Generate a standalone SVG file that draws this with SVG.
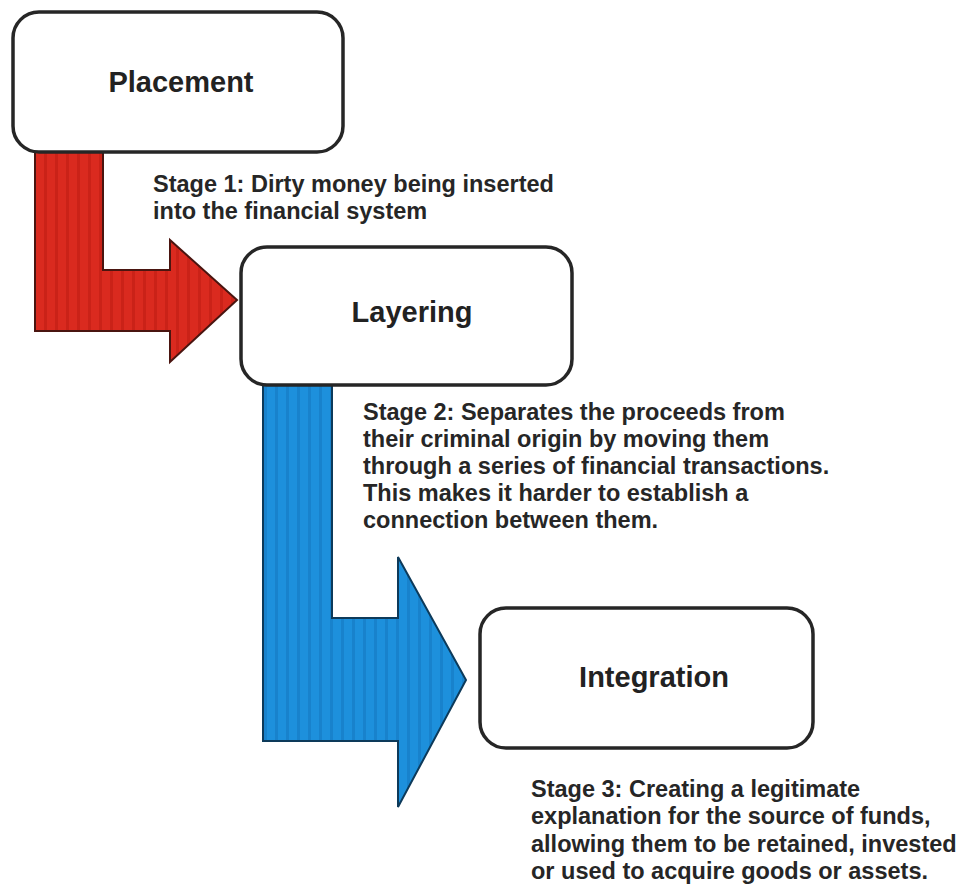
<svg xmlns="http://www.w3.org/2000/svg" width="963" height="895" viewBox="0 0 963 895">
<defs>
<pattern id="redStripe" patternUnits="userSpaceOnUse" width="11" height="10">
<rect width="11" height="10" fill="#da2a1f"/>
<rect x="0" width="3" height="10" fill="#ca2218"/>
</pattern>
<pattern id="blueStripe" patternUnits="userSpaceOnUse" width="11" height="10">
<rect width="11" height="10" fill="#1d90dc"/>
<rect x="0" width="3" height="10" fill="#1882cc"/>
</pattern>
</defs>
<style>
.box{fill:#ffffff;stroke:#262626;stroke-width:3.5}
.title{font-family:"Liberation Sans",Arial,sans-serif;font-weight:bold;font-size:29px;fill:#222;text-anchor:middle}
.desc{font-family:"Liberation Sans",Arial,sans-serif;font-weight:bold;font-size:23.5px;fill:#262626}
.arrow{stroke-width:2;stroke-linejoin:miter}
</style>
<rect width="963" height="895" fill="#ffffff"/>
<g id="connectors">
<polygon class="arrow" fill="url(#redStripe)" stroke="#4a1510" points="35,150 103,150 103,270 170,270 170,240 237,300 170,362 170,331 35,331"/>
<polygon class="arrow" fill="url(#blueStripe)" stroke="#0d3a5a" points="263,383 332,383 332,618 398,618 398,557 466,680 398,807 398,741 263,741"/>
</g>
<g id="placement">
<rect class="box" x="13" y="12" width="330" height="140" rx="26"/>
<text class="title" x="181" y="92">Placement</text>
</g>
<g id="stage1">
<text class="desc" x="153" y="192">Stage 1: Dirty money being inserted</text>
<text class="desc" x="153" y="219">into the financial system</text>
</g>
<g id="layering">
<rect class="box" x="241" y="247" width="331" height="138" rx="26"/>
<text class="title" x="412" y="322">Layering</text>
</g>
<g id="stage2">
<text class="desc" x="363" y="420">Stage 2: Separates the proceeds from</text>
<text class="desc" x="363" y="447">their criminal origin by moving them</text>
<text class="desc" x="363" y="474">through a series of financial transactions.</text>
<text class="desc" x="363" y="501">This makes it harder to establish a</text>
<text class="desc" x="363" y="528">connection between them.</text>
</g>
<g id="integration">
<rect class="box" x="480" y="608" width="333" height="140" rx="26"/>
<text class="title" x="654" y="687">Integration</text>
</g>
<g id="stage3">
<text class="desc" x="531" y="797">Stage 3: Creating a legitimate</text>
<text class="desc" x="531" y="824">explanation for the source of funds,</text>
<text class="desc" x="531" y="852">allowing them to be retained, invested</text>
<text class="desc" x="531" y="879">or used to acquire goods or assets.</text>
</g>
</svg>
